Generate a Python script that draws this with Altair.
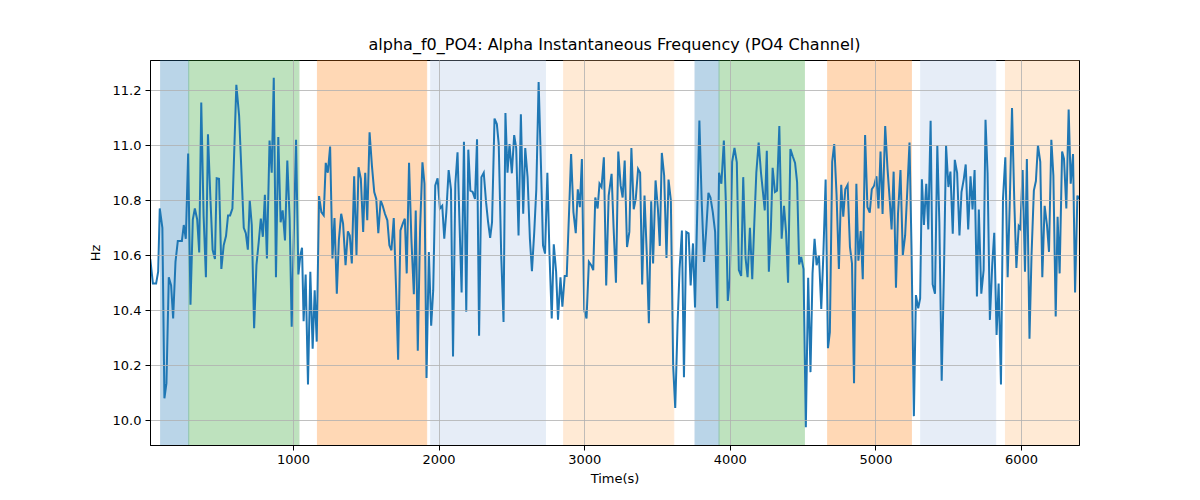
import altair as alt
import pandas as pd

# ---- line data (seconds, Hz) ----
t1 = [20, 38, 60, 74, 85, 103, 117, 131, 147, 163, 177, 193, 209, 223, 237, 250, 264, 280, 296, 312,
      326, 342, 356, 370, 386, 402, 416, 432, 448, 464, 476, 492, 508, 524, 540, 554, 568, 584, 611, 630,
      662, 676, 690, 703, 717, 733, 749, 765, 779, 793, 807, 821, 839, 854, 868, 883, 899, 915, 929, 945,
      961, 977, 991, 1021, 1037, 1051, 1062]
v1 = [10.586, 10.497, 10.497, 10.54, 10.77, 10.70, 10.08, 10.135, 10.52, 10.49, 10.37, 10.576, 10.652, 10.652,
      10.652, 10.71, 10.66, 10.97, 10.42, 10.73, 10.77, 10.73, 10.61, 11.155, 10.745, 10.52, 11.04, 10.817,
      10.62, 10.586, 10.88, 10.878, 10.55, 10.636, 10.67, 10.745, 10.745, 10.77, 11.22, 11.107, 10.70, 10.68,
      10.62, 10.80, 10.71, 10.335, 10.564, 10.65, 10.733, 10.667, 10.82, 10.588, 11.017, 10.90, 11.245, 10.52,
      11.03, 10.72, 10.763, 10.654, 10.944, 10.733, 10.34, 11.02, 10.53, 10.60, 10.627]

t2 = [1073, 1087, 1103, 1119, 1135, 1149, 1163, 1179, 1195, 1211, 1225, 1239, 1255, 1271, 1285, 1301, 1315,
      1331, 1344, 1361, 1377, 1390, 1404, 1420, 1436, 1450, 1466, 1482, 1496, 1510, 1526, 1542, 1558, 1572,
      1586, 1602, 1616, 1632, 1648, 1662, 1676, 1692, 1708, 1722, 1738, 1754, 1768, 1781, 1797, 1813, 1830,
      1843, 1857, 1873, 1889, 1903, 1917, 1933, 1949, 1963, 1977, 1993, 2009, 2025, 2039, 2053, 2069, 2085,
      2099, 2115]
v2 = [10.36, 10.53, 10.13, 10.54, 10.26, 10.473, 10.286, 10.815, 10.757, 10.745, 10.936, 10.90, 10.995, 10.588,
      10.735, 10.46, 10.654, 10.751, 10.715, 10.564, 10.687, 10.672, 10.57, 10.887, 10.60, 10.92, 10.878,
      10.685, 10.90, 10.727, 11.047, 10.926, 10.83, 10.805, 10.68, 10.80, 10.78, 10.75, 10.727, 10.636, 10.618,
      10.735, 10.478, 10.22, 10.69, 10.715, 10.733, 10.534, 10.936, 10.66, 10.458, 10.763, 10.253, 10.697,
      10.938, 10.86, 10.154, 10.612, 10.344, 10.473, 10.854, 10.88, 10.77, 10.78, 10.66, 10.757, 10.91, 10.84,
      10.232, 10.86]

t3 = [2130, 2142, 2158, 2174, 2190, 2204, 2218, 2234, 2250, 2264, 2278, 2294, 2310, 2326, 2340, 2354, 2367,
      2384, 2400, 2413, 2430, 2446, 2459, 2473, 2487, 2503, 2519, 2533, 2549, 2565, 2581, 2595, 2611, 2627,
      2641, 2657, 2671, 2687, 2703, 2717, 2731, 2747, 2761, 2777, 2791, 2807, 2820, 2837, 2850, 2866, 2880,
      2896, 2910, 2926, 2942, 2956, 2970, 2984, 3000, 3016, 3032, 3048, 3062, 3076, 3092, 3105, 3119, 3135,
      3151, 3168]
v3 = [10.974, 10.745, 10.465, 11.013, 10.395, 10.984, 10.835, 10.83, 10.805, 11.022, 10.307, 10.884, 10.90,
      10.793, 10.72, 10.663, 10.72, 11.097, 11.077, 11.004, 10.60, 10.357, 11.117, 10.90, 11.004, 10.898,
      11.037, 10.99, 10.672, 11.113, 10.751, 10.99, 10.884, 10.66, 10.542, 10.686, 10.84, 11.23, 10.926,
      10.636, 10.606, 10.90, 10.612, 10.37, 10.64, 10.54, 10.366, 10.52, 10.413, 10.525, 10.525, 10.757,
      10.968, 10.757, 10.68, 10.84, 10.775, 10.95, 10.40, 10.37, 10.576, 10.564, 10.546, 10.81, 10.77, 10.86,
      10.848, 10.956, 10.49, 10.817]

t4 = [3188, 3202, 3218, 3234, 3250, 3264, 3278, 3294, 3310, 3324, 3340, 3354, 3370, 3384, 3398, 3414, 3430,
      3444, 3460, 3473, 3490, 3506, 3519, 3533, 3549, 3565, 3579, 3595, 3611, 3625, 3641, 3655, 3671, 3685,
      3701, 3717, 3731, 3747, 3761, 3777, 3791, 3807, 3823, 3837, 3853, 3867, 3883, 3899, 3913, 3926, 3942,
      3959, 3972, 3986, 4000, 4016, 4032, 4048, 4062, 4078, 4092, 4108, 4122, 4138, 4154, 4168, 4182, 4198,
      4214, 4228, 4240, 4254, 4268, 4282]
v4 = [10.896, 10.697, 10.50, 10.977, 10.854, 10.81, 10.944, 10.63, 10.685, 10.99, 10.767, 10.805, 10.914,
      10.90, 10.494, 10.817, 10.60, 10.353, 10.796, 10.57, 10.872, 10.77, 10.634, 10.972, 10.89, 10.59,
      10.875, 10.80, 10.196, 10.045, 10.347, 10.55, 10.69, 10.156, 10.685, 10.68, 10.49, 10.643, 10.41,
      10.775, 11.09, 10.793, 10.576, 10.685, 10.827, 10.81, 10.757, 10.685, 10.407, 10.90, 10.86, 11.017,
      10.805, 10.434, 10.516, 10.94, 10.99, 10.938, 10.546, 10.525, 10.884, 10.59, 10.52, 10.70, 10.513,
      10.715, 10.90, 11.01, 10.90, 10.827, 10.763, 10.98, 10.54, 10.697]

t5 = [4294, 4310, 4324, 4340, 4356, 4372, 4386, 4400, 4416, 4432, 4448, 4462, 4476, 4490, 4506, 4522, 4538,
      4554, 4568, 4582, 4596, 4612, 4628, 4642, 4658, 4674, 4687, 4703, 4717, 4733, 4749, 4765, 4779, 4793,
      4809, 4825, 4839, 4853, 4869, 4883, 4899, 4913, 4929, 4945, 4961, 4975, 4991, 5007, 5021, 5035, 5049,
      5067, 5083, 5097, 5111, 5125, 5141, 5155, 5172, 5188, 5204, 5220, 5234, 5248, 5264, 5278, 5294, 5307]
v5 = [10.918, 10.83, 10.835, 11.07, 10.66, 10.78, 10.685, 10.50, 10.986, 10.96, 10.936, 10.866, 10.566,
      10.594, 10.55, 9.975, 10.518, 10.175, 10.534, 10.66, 10.564, 10.60, 10.405, 10.598, 10.875, 10.262,
      10.32, 10.94, 11.004, 10.82, 10.55, 10.856, 10.74, 10.84, 10.856, 10.63, 10.57, 10.135, 10.86, 10.58,
      10.688, 10.513, 11.037, 10.775, 10.755, 10.84, 10.853, 10.887, 10.77, 10.977, 10.75, 11.07, 10.914,
      10.81, 10.694, 10.904, 10.482, 10.75, 10.91, 10.60, 10.672, 10.848, 11.01, 10.62, 10.015, 10.455,
      10.407, 10.443]

t6 = [5319, 5333, 5349, 5363, 5379, 5393, 5409, 5425, 5439, 5455, 5471, 5485, 5501, 5515, 5531, 5545, 5561,
      5577, 5591, 5607, 5620, 5637, 5653, 5667, 5681, 5697, 5710, 5727, 5743, 5756, 5770, 5786, 5802, 5816,
      5832, 5846, 5862, 5876, 5892, 5908, 5922, 5938, 5954, 5968, 5984, 5995, 6011, 6027, 6040, 6058, 6072,
      6088, 6102, 6116, 6132, 6146, 6162, 6178, 6192, 6208, 6222, 6238, 6251, 6265, 6282, 6295, 6311, 6327,
      6341, 6357, 6371, 6387, 6398]
v6 = [10.876, 10.71, 10.86, 10.694, 11.089, 10.494, 10.46, 10.999, 10.72, 10.144, 10.552, 10.999, 10.848,
      10.904, 10.678, 10.947, 10.90, 10.672, 10.83, 10.878, 10.93, 10.694, 10.887, 10.767, 10.91, 10.45,
      10.766, 10.46, 10.546, 11.093, 10.90, 10.365, 10.564, 10.682, 10.31, 10.497, 10.13, 10.805, 10.956,
      10.52, 10.78, 11.135, 10.787, 10.554, 10.706, 10.697, 10.91, 10.54, 10.95, 10.296, 10.60, 10.835,
      10.87, 11.00, 10.94, 10.52, 10.78, 10.71, 10.612, 11.02, 10.89, 10.377, 10.74, 10.534, 10.977, 10.95,
      10.77, 11.13, 10.86, 10.968, 10.465, 10.817, 10.805]

# ---- shaded spans ----
span_start = [91, 284, 1168, 1946, 2859, 3761, 3926, 4672, 5311, 5893]
span_end = [284, 1041, 1918, 2734, 3615, 3926, 4512, 5247, 5826, 6398]
span_color = ["#1f77b4", "#2ca02c", "#ff7f0e", "#aec7e8", "#ffbb78",
              "#1f77b4", "#2ca02c", "#ff7f0e", "#aec7e8", "#ffbb78"]

x_ticks = [1000, 2000, 3000, 4000, 5000, 6000]
y_ticks = [10.0, 10.2, 10.4, 10.6, 10.8, 11.0, 11.2]
x_domain = [18, 6398]
y_domain = [9.91, 11.31]

line_df = pd.DataFrame({
    "t": t1 + t2 + t3 + t4 + t5 + t6,
    "hz": v1 + v2 + v3 + v4 + v5 + v6,
})
span_df = pd.DataFrame({"start": span_start, "end": span_end, "color": span_color})

FONT = "DejaVu Sans"
xscale = alt.Scale(domain=x_domain, nice=False, zero=False)
yscale = alt.Scale(domain=y_domain, nice=False, zero=False)

x_axis = alt.Axis(values=x_ticks, format="d", title="Time(s)", grid=True, zindex=1,
                  labelFlush=False, tickSize=5, labelPadding=3, titlePadding=6)
y_axis = alt.Axis(values=y_ticks, format=".1f", title="Hz", grid=True, zindex=1,
                  tickSize=5, labelPadding=4, titlePadding=10)

spans = alt.Chart(span_df).mark_rect(opacity=0.3, strokeWidth=1, clip=True).encode(
    x=alt.X("start:Q", scale=xscale, axis=x_axis),
    x2="end:Q",
    color=alt.Color("color:N", scale=None),
    stroke=alt.Stroke("color:N", scale=None),
)

line = alt.Chart(line_df).mark_line(color="#1f77b4", strokeWidth=2, clip=True).encode(
    x=alt.X("t:Q", scale=xscale, axis=x_axis),
    y=alt.Y("hz:Q", scale=yscale, axis=y_axis),
)

chart = alt.layer(spans, line).properties(
    width=929,
    height=385,
    padding={"left": 142, "top": 52, "right": 113, "bottom": 47},
    autosize=alt.AutoSizeParams(type="none"),
    title=alt.TitleParams(
        "alpha_f0_PO4: Alpha Instantaneous Frequency (PO4 Channel)",
        fontSize=16, font=FONT, fontWeight="normal", color="black", offset=7,
    ),
).configure_axis(
    labelFont=FONT, titleFont=FONT, labelFontSize=13, titleFontSize=13,
    titleFontWeight="normal", labelColor="black", titleColor="black",
    domainColor="black", tickColor="black", gridColor="#b0b0b0", gridWidth=0.8,
).configure_view(stroke="black", strokeWidth=1)

chart.save("out.html", embed_options={"renderer": "svg", "actions": False})
